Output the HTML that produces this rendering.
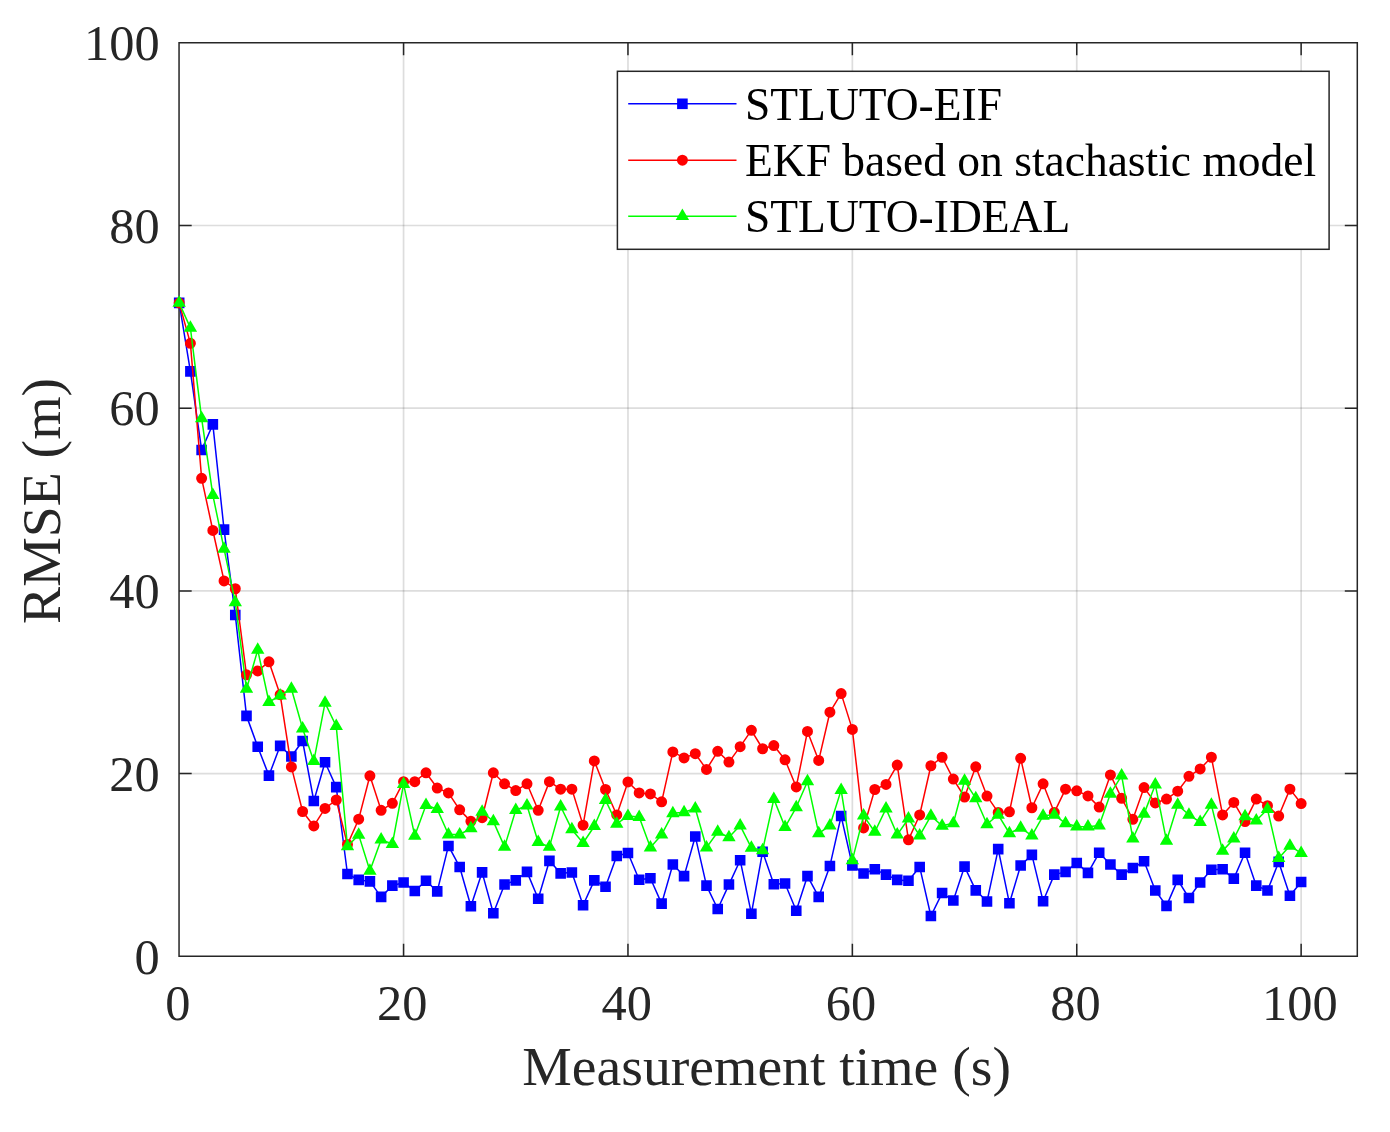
<!DOCTYPE html>
<html><head><meta charset="utf-8"><title>RMSE chart</title>
<style>html,body{margin:0;padding:0;background:#fff;overflow:hidden;}svg{display:block;will-change:transform;}text{font-family:"Liberation Serif",serif;}</style></head><body>
<svg width="1390" height="1132" viewBox="0 0 1390 1132">
<rect x="0" y="0" width="1390" height="1132" fill="#ffffff"/>
<path d="M403.57 42.80V956.30M627.96 42.80V956.30M852.36 42.80V956.30M1076.75 42.80V956.30M1301.14 42.80V956.30" stroke="#262626" stroke-opacity="0.155" stroke-width="1.7" fill="none"/>
<path d="M179.18 773.60H1357.30M179.18 590.90H1357.30M179.18 408.20H1357.30M179.18 225.50H1357.30" stroke="#262626" stroke-opacity="0.155" stroke-width="1.7" fill="none"/>
<path d="M179.05 42.80H1357.30V956.30H179.05ZM403.57 956.30v-12.5M403.57 42.80v12.5M627.96 956.30v-12.5M627.96 42.80v12.5M852.36 956.30v-12.5M852.36 42.80v12.5M1076.75 956.30v-12.5M1076.75 42.80v12.5M1301.14 956.30v-12.5M1301.14 42.80v12.5M179.18 773.60h12.5M1357.30 773.60h-12.5M179.18 590.90h12.5M1357.30 590.90h-12.5M179.18 408.20h12.5M1357.30 408.20h-12.5M179.18 225.50h12.5M1357.30 225.50h-12.5M179.18 956.30h12.5M179.18 42.80h12.5M1357.30 956.30h-12.5M1357.30 42.80h-12.5" stroke="#262626" stroke-width="1.5" fill="none" stroke-linecap="butt"/>
<g stroke="#0000ff" fill="#0000ff">
<polyline points="179.18,302.89 190.40,371.39 201.62,449.93 212.84,424.36 224.06,529.66 235.28,614.97 246.50,715.88 257.72,746.75 268.94,775.61 280.16,745.84 291.38,756.44 302.60,741.00 313.82,801.00 325.03,762.28 336.25,787.12 347.47,873.98 358.69,879.91 369.91,881.37 381.13,896.90 392.35,885.67 403.57,882.47 414.79,890.96 426.01,880.74 437.23,891.42 448.45,845.94 459.67,866.94 470.89,906.22 482.11,872.33 493.33,913.25 504.55,884.57 515.77,880.37 526.99,871.88 538.21,898.82 549.43,860.83 560.65,873.34 571.87,872.52 583.09,905.21 594.31,880.37 605.52,886.76 616.74,855.98 627.96,852.97 639.18,879.73 650.40,878.27 661.62,903.66 672.84,864.48 684.06,876.08 695.28,836.44 706.50,885.67 717.72,909.05 728.94,884.57 740.16,860.19 751.38,913.71 762.60,851.69 773.82,884.21 785.04,883.57 796.26,910.69 807.48,876.08 818.70,896.90 829.92,865.94 841.14,816.07 852.36,865.48 863.58,873.52 874.80,869.32 886.01,874.62 897.23,879.91 908.45,880.74 919.67,866.94 930.89,915.99 942.11,893.06 953.33,900.55 964.55,866.58 975.77,890.33 986.99,901.56 998.21,849.14 1009.43,903.29 1020.65,865.48 1031.87,854.89 1043.09,901.19 1054.31,874.62 1065.53,871.88 1076.75,862.93 1087.97,872.88 1099.19,852.79 1110.41,864.48 1121.63,874.62 1132.85,868.04 1144.07,861.28 1155.29,890.51 1166.50,905.85 1177.72,879.91 1188.94,898.00 1200.16,882.47 1211.38,869.78 1222.60,869.32 1233.82,878.63 1245.04,852.79 1256.26,885.67 1267.48,890.51 1278.70,861.92 1289.92,895.80 1301.14,882.01" fill="none" stroke-width="1.5" stroke-linejoin="round"/>
<path d="M173.88 297.59h10.6v10.6h-10.6zM185.10 366.09h10.6v10.6h-10.6zM196.32 444.63h10.6v10.6h-10.6zM207.54 419.06h10.6v10.6h-10.6zM218.76 524.36h10.6v10.6h-10.6zM229.98 609.67h10.6v10.6h-10.6zM241.20 710.58h10.6v10.6h-10.6zM252.42 741.45h10.6v10.6h-10.6zM263.64 770.31h10.6v10.6h-10.6zM274.86 740.54h10.6v10.6h-10.6zM286.08 751.14h10.6v10.6h-10.6zM297.30 735.70h10.6v10.6h-10.6zM308.52 795.70h10.6v10.6h-10.6zM319.73 756.98h10.6v10.6h-10.6zM330.95 781.82h10.6v10.6h-10.6zM342.17 868.68h10.6v10.6h-10.6zM353.39 874.61h10.6v10.6h-10.6zM364.61 876.07h10.6v10.6h-10.6zM375.83 891.60h10.6v10.6h-10.6zM387.05 880.37h10.6v10.6h-10.6zM398.27 877.17h10.6v10.6h-10.6zM409.49 885.66h10.6v10.6h-10.6zM420.71 875.44h10.6v10.6h-10.6zM431.93 886.12h10.6v10.6h-10.6zM443.15 840.64h10.6v10.6h-10.6zM454.37 861.64h10.6v10.6h-10.6zM465.59 900.92h10.6v10.6h-10.6zM476.81 867.03h10.6v10.6h-10.6zM488.03 907.95h10.6v10.6h-10.6zM499.25 879.27h10.6v10.6h-10.6zM510.47 875.07h10.6v10.6h-10.6zM521.69 866.58h10.6v10.6h-10.6zM532.91 893.52h10.6v10.6h-10.6zM544.13 855.53h10.6v10.6h-10.6zM555.35 868.04h10.6v10.6h-10.6zM566.57 867.22h10.6v10.6h-10.6zM577.79 899.91h10.6v10.6h-10.6zM589.01 875.07h10.6v10.6h-10.6zM600.22 881.46h10.6v10.6h-10.6zM611.44 850.68h10.6v10.6h-10.6zM622.66 847.67h10.6v10.6h-10.6zM633.88 874.43h10.6v10.6h-10.6zM645.10 872.97h10.6v10.6h-10.6zM656.32 898.36h10.6v10.6h-10.6zM667.54 859.18h10.6v10.6h-10.6zM678.76 870.78h10.6v10.6h-10.6zM689.98 831.14h10.6v10.6h-10.6zM701.20 880.37h10.6v10.6h-10.6zM712.42 903.75h10.6v10.6h-10.6zM723.64 879.27h10.6v10.6h-10.6zM734.86 854.89h10.6v10.6h-10.6zM746.08 908.41h10.6v10.6h-10.6zM757.30 846.39h10.6v10.6h-10.6zM768.52 878.91h10.6v10.6h-10.6zM779.74 878.27h10.6v10.6h-10.6zM790.96 905.39h10.6v10.6h-10.6zM802.18 870.78h10.6v10.6h-10.6zM813.40 891.60h10.6v10.6h-10.6zM824.62 860.64h10.6v10.6h-10.6zM835.84 810.77h10.6v10.6h-10.6zM847.06 860.18h10.6v10.6h-10.6zM858.28 868.22h10.6v10.6h-10.6zM869.50 864.02h10.6v10.6h-10.6zM880.71 869.32h10.6v10.6h-10.6zM891.93 874.61h10.6v10.6h-10.6zM903.15 875.44h10.6v10.6h-10.6zM914.37 861.64h10.6v10.6h-10.6zM925.59 910.69h10.6v10.6h-10.6zM936.81 887.76h10.6v10.6h-10.6zM948.03 895.25h10.6v10.6h-10.6zM959.25 861.28h10.6v10.6h-10.6zM970.47 885.03h10.6v10.6h-10.6zM981.69 896.26h10.6v10.6h-10.6zM992.91 843.84h10.6v10.6h-10.6zM1004.13 897.99h10.6v10.6h-10.6zM1015.35 860.18h10.6v10.6h-10.6zM1026.57 849.59h10.6v10.6h-10.6zM1037.79 895.89h10.6v10.6h-10.6zM1049.01 869.32h10.6v10.6h-10.6zM1060.23 866.58h10.6v10.6h-10.6zM1071.45 857.63h10.6v10.6h-10.6zM1082.67 867.58h10.6v10.6h-10.6zM1093.89 847.49h10.6v10.6h-10.6zM1105.11 859.18h10.6v10.6h-10.6zM1116.33 869.32h10.6v10.6h-10.6zM1127.55 862.74h10.6v10.6h-10.6zM1138.77 855.98h10.6v10.6h-10.6zM1149.99 885.21h10.6v10.6h-10.6zM1161.20 900.55h10.6v10.6h-10.6zM1172.42 874.61h10.6v10.6h-10.6zM1183.64 892.70h10.6v10.6h-10.6zM1194.86 877.17h10.6v10.6h-10.6zM1206.08 864.48h10.6v10.6h-10.6zM1217.30 864.02h10.6v10.6h-10.6zM1228.52 873.33h10.6v10.6h-10.6zM1239.74 847.49h10.6v10.6h-10.6zM1250.96 880.37h10.6v10.6h-10.6zM1262.18 885.21h10.6v10.6h-10.6zM1273.40 856.62h10.6v10.6h-10.6zM1284.62 890.50h10.6v10.6h-10.6zM1295.84 876.71h10.6v10.6h-10.6z" stroke="none"/>
</g>
<g stroke="#ff0000" fill="#ff0000">
<polyline points="179.18,302.89 190.40,343.35 201.62,478.34 212.84,530.48 224.06,580.90 235.28,588.75 246.50,674.79 257.72,670.95 268.94,661.82 280.16,694.70 291.38,766.94 302.60,811.51 313.82,825.94 325.03,808.40 336.25,800.00 347.47,844.48 358.69,819.18 369.91,775.80 381.13,810.32 392.35,803.29 403.57,781.64 414.79,781.64 426.01,772.78 437.23,788.04 448.45,792.88 459.67,809.86 470.89,821.37 482.11,817.72 493.33,772.78 504.55,783.83 515.77,790.59 526.99,783.83 538.21,810.32 549.43,781.64 560.65,789.13 571.87,789.13 583.09,825.21 594.31,760.91 605.52,789.50 616.74,814.98 627.96,781.92 639.18,792.88 650.40,793.97 661.62,801.83 672.84,751.96 684.06,757.90 695.28,753.70 706.50,769.40 717.72,751.32 728.94,762.10 740.16,746.66 751.38,730.31 762.60,748.76 773.82,745.57 785.04,759.81 796.26,786.94 807.48,731.41 818.70,760.45 829.92,712.23 841.14,693.60 852.36,729.40 863.58,827.95 874.80,789.50 886.01,784.38 897.23,765.11 908.45,839.82 919.67,814.98 930.89,765.75 942.11,757.26 953.33,779.09 964.55,796.99 975.77,766.85 986.99,796.07 998.21,812.42 1009.43,811.78 1020.65,758.35 1031.87,807.76 1043.09,783.83 1054.31,812.42 1065.53,789.13 1076.75,790.78 1087.97,795.89 1099.19,807.12 1110.41,774.88 1121.63,798.26 1132.85,819.27 1144.07,787.58 1155.29,802.92 1166.50,799.09 1177.72,791.23 1188.94,776.35 1200.16,768.95 1211.38,757.26 1222.60,814.98 1233.82,802.47 1245.04,821.55 1256.26,799.09 1267.48,805.66 1278.70,816.07 1289.92,789.13 1301.14,803.56" fill="none" stroke-width="1.5" stroke-linejoin="round"/>
<path d="M173.68 302.89a5.5 5.5 0 1 0 11.0 0a5.5 5.5 0 1 0 -11.0 0zM184.90 343.35a5.5 5.5 0 1 0 11.0 0a5.5 5.5 0 1 0 -11.0 0zM196.12 478.34a5.5 5.5 0 1 0 11.0 0a5.5 5.5 0 1 0 -11.0 0zM207.34 530.48a5.5 5.5 0 1 0 11.0 0a5.5 5.5 0 1 0 -11.0 0zM218.56 580.90a5.5 5.5 0 1 0 11.0 0a5.5 5.5 0 1 0 -11.0 0zM229.78 588.75a5.5 5.5 0 1 0 11.0 0a5.5 5.5 0 1 0 -11.0 0zM241.00 674.79a5.5 5.5 0 1 0 11.0 0a5.5 5.5 0 1 0 -11.0 0zM252.22 670.95a5.5 5.5 0 1 0 11.0 0a5.5 5.5 0 1 0 -11.0 0zM263.44 661.82a5.5 5.5 0 1 0 11.0 0a5.5 5.5 0 1 0 -11.0 0zM274.66 694.70a5.5 5.5 0 1 0 11.0 0a5.5 5.5 0 1 0 -11.0 0zM285.88 766.94a5.5 5.5 0 1 0 11.0 0a5.5 5.5 0 1 0 -11.0 0zM297.10 811.51a5.5 5.5 0 1 0 11.0 0a5.5 5.5 0 1 0 -11.0 0zM308.32 825.94a5.5 5.5 0 1 0 11.0 0a5.5 5.5 0 1 0 -11.0 0zM319.53 808.40a5.5 5.5 0 1 0 11.0 0a5.5 5.5 0 1 0 -11.0 0zM330.75 800.00a5.5 5.5 0 1 0 11.0 0a5.5 5.5 0 1 0 -11.0 0zM341.97 844.48a5.5 5.5 0 1 0 11.0 0a5.5 5.5 0 1 0 -11.0 0zM353.19 819.18a5.5 5.5 0 1 0 11.0 0a5.5 5.5 0 1 0 -11.0 0zM364.41 775.80a5.5 5.5 0 1 0 11.0 0a5.5 5.5 0 1 0 -11.0 0zM375.63 810.32a5.5 5.5 0 1 0 11.0 0a5.5 5.5 0 1 0 -11.0 0zM386.85 803.29a5.5 5.5 0 1 0 11.0 0a5.5 5.5 0 1 0 -11.0 0zM398.07 781.64a5.5 5.5 0 1 0 11.0 0a5.5 5.5 0 1 0 -11.0 0zM409.29 781.64a5.5 5.5 0 1 0 11.0 0a5.5 5.5 0 1 0 -11.0 0zM420.51 772.78a5.5 5.5 0 1 0 11.0 0a5.5 5.5 0 1 0 -11.0 0zM431.73 788.04a5.5 5.5 0 1 0 11.0 0a5.5 5.5 0 1 0 -11.0 0zM442.95 792.88a5.5 5.5 0 1 0 11.0 0a5.5 5.5 0 1 0 -11.0 0zM454.17 809.86a5.5 5.5 0 1 0 11.0 0a5.5 5.5 0 1 0 -11.0 0zM465.39 821.37a5.5 5.5 0 1 0 11.0 0a5.5 5.5 0 1 0 -11.0 0zM476.61 817.72a5.5 5.5 0 1 0 11.0 0a5.5 5.5 0 1 0 -11.0 0zM487.83 772.78a5.5 5.5 0 1 0 11.0 0a5.5 5.5 0 1 0 -11.0 0zM499.05 783.83a5.5 5.5 0 1 0 11.0 0a5.5 5.5 0 1 0 -11.0 0zM510.27 790.59a5.5 5.5 0 1 0 11.0 0a5.5 5.5 0 1 0 -11.0 0zM521.49 783.83a5.5 5.5 0 1 0 11.0 0a5.5 5.5 0 1 0 -11.0 0zM532.71 810.32a5.5 5.5 0 1 0 11.0 0a5.5 5.5 0 1 0 -11.0 0zM543.93 781.64a5.5 5.5 0 1 0 11.0 0a5.5 5.5 0 1 0 -11.0 0zM555.15 789.13a5.5 5.5 0 1 0 11.0 0a5.5 5.5 0 1 0 -11.0 0zM566.37 789.13a5.5 5.5 0 1 0 11.0 0a5.5 5.5 0 1 0 -11.0 0zM577.59 825.21a5.5 5.5 0 1 0 11.0 0a5.5 5.5 0 1 0 -11.0 0zM588.81 760.91a5.5 5.5 0 1 0 11.0 0a5.5 5.5 0 1 0 -11.0 0zM600.02 789.50a5.5 5.5 0 1 0 11.0 0a5.5 5.5 0 1 0 -11.0 0zM611.24 814.98a5.5 5.5 0 1 0 11.0 0a5.5 5.5 0 1 0 -11.0 0zM622.46 781.92a5.5 5.5 0 1 0 11.0 0a5.5 5.5 0 1 0 -11.0 0zM633.68 792.88a5.5 5.5 0 1 0 11.0 0a5.5 5.5 0 1 0 -11.0 0zM644.90 793.97a5.5 5.5 0 1 0 11.0 0a5.5 5.5 0 1 0 -11.0 0zM656.12 801.83a5.5 5.5 0 1 0 11.0 0a5.5 5.5 0 1 0 -11.0 0zM667.34 751.96a5.5 5.5 0 1 0 11.0 0a5.5 5.5 0 1 0 -11.0 0zM678.56 757.90a5.5 5.5 0 1 0 11.0 0a5.5 5.5 0 1 0 -11.0 0zM689.78 753.70a5.5 5.5 0 1 0 11.0 0a5.5 5.5 0 1 0 -11.0 0zM701.00 769.40a5.5 5.5 0 1 0 11.0 0a5.5 5.5 0 1 0 -11.0 0zM712.22 751.32a5.5 5.5 0 1 0 11.0 0a5.5 5.5 0 1 0 -11.0 0zM723.44 762.10a5.5 5.5 0 1 0 11.0 0a5.5 5.5 0 1 0 -11.0 0zM734.66 746.66a5.5 5.5 0 1 0 11.0 0a5.5 5.5 0 1 0 -11.0 0zM745.88 730.31a5.5 5.5 0 1 0 11.0 0a5.5 5.5 0 1 0 -11.0 0zM757.10 748.76a5.5 5.5 0 1 0 11.0 0a5.5 5.5 0 1 0 -11.0 0zM768.32 745.57a5.5 5.5 0 1 0 11.0 0a5.5 5.5 0 1 0 -11.0 0zM779.54 759.81a5.5 5.5 0 1 0 11.0 0a5.5 5.5 0 1 0 -11.0 0zM790.76 786.94a5.5 5.5 0 1 0 11.0 0a5.5 5.5 0 1 0 -11.0 0zM801.98 731.41a5.5 5.5 0 1 0 11.0 0a5.5 5.5 0 1 0 -11.0 0zM813.20 760.45a5.5 5.5 0 1 0 11.0 0a5.5 5.5 0 1 0 -11.0 0zM824.42 712.23a5.5 5.5 0 1 0 11.0 0a5.5 5.5 0 1 0 -11.0 0zM835.64 693.60a5.5 5.5 0 1 0 11.0 0a5.5 5.5 0 1 0 -11.0 0zM846.86 729.40a5.5 5.5 0 1 0 11.0 0a5.5 5.5 0 1 0 -11.0 0zM858.08 827.95a5.5 5.5 0 1 0 11.0 0a5.5 5.5 0 1 0 -11.0 0zM869.30 789.50a5.5 5.5 0 1 0 11.0 0a5.5 5.5 0 1 0 -11.0 0zM880.51 784.38a5.5 5.5 0 1 0 11.0 0a5.5 5.5 0 1 0 -11.0 0zM891.73 765.11a5.5 5.5 0 1 0 11.0 0a5.5 5.5 0 1 0 -11.0 0zM902.95 839.82a5.5 5.5 0 1 0 11.0 0a5.5 5.5 0 1 0 -11.0 0zM914.17 814.98a5.5 5.5 0 1 0 11.0 0a5.5 5.5 0 1 0 -11.0 0zM925.39 765.75a5.5 5.5 0 1 0 11.0 0a5.5 5.5 0 1 0 -11.0 0zM936.61 757.26a5.5 5.5 0 1 0 11.0 0a5.5 5.5 0 1 0 -11.0 0zM947.83 779.09a5.5 5.5 0 1 0 11.0 0a5.5 5.5 0 1 0 -11.0 0zM959.05 796.99a5.5 5.5 0 1 0 11.0 0a5.5 5.5 0 1 0 -11.0 0zM970.27 766.85a5.5 5.5 0 1 0 11.0 0a5.5 5.5 0 1 0 -11.0 0zM981.49 796.07a5.5 5.5 0 1 0 11.0 0a5.5 5.5 0 1 0 -11.0 0zM992.71 812.42a5.5 5.5 0 1 0 11.0 0a5.5 5.5 0 1 0 -11.0 0zM1003.93 811.78a5.5 5.5 0 1 0 11.0 0a5.5 5.5 0 1 0 -11.0 0zM1015.15 758.35a5.5 5.5 0 1 0 11.0 0a5.5 5.5 0 1 0 -11.0 0zM1026.37 807.76a5.5 5.5 0 1 0 11.0 0a5.5 5.5 0 1 0 -11.0 0zM1037.59 783.83a5.5 5.5 0 1 0 11.0 0a5.5 5.5 0 1 0 -11.0 0zM1048.81 812.42a5.5 5.5 0 1 0 11.0 0a5.5 5.5 0 1 0 -11.0 0zM1060.03 789.13a5.5 5.5 0 1 0 11.0 0a5.5 5.5 0 1 0 -11.0 0zM1071.25 790.78a5.5 5.5 0 1 0 11.0 0a5.5 5.5 0 1 0 -11.0 0zM1082.47 795.89a5.5 5.5 0 1 0 11.0 0a5.5 5.5 0 1 0 -11.0 0zM1093.69 807.12a5.5 5.5 0 1 0 11.0 0a5.5 5.5 0 1 0 -11.0 0zM1104.91 774.88a5.5 5.5 0 1 0 11.0 0a5.5 5.5 0 1 0 -11.0 0zM1116.13 798.26a5.5 5.5 0 1 0 11.0 0a5.5 5.5 0 1 0 -11.0 0zM1127.35 819.27a5.5 5.5 0 1 0 11.0 0a5.5 5.5 0 1 0 -11.0 0zM1138.57 787.58a5.5 5.5 0 1 0 11.0 0a5.5 5.5 0 1 0 -11.0 0zM1149.79 802.92a5.5 5.5 0 1 0 11.0 0a5.5 5.5 0 1 0 -11.0 0zM1161.00 799.09a5.5 5.5 0 1 0 11.0 0a5.5 5.5 0 1 0 -11.0 0zM1172.22 791.23a5.5 5.5 0 1 0 11.0 0a5.5 5.5 0 1 0 -11.0 0zM1183.44 776.35a5.5 5.5 0 1 0 11.0 0a5.5 5.5 0 1 0 -11.0 0zM1194.66 768.95a5.5 5.5 0 1 0 11.0 0a5.5 5.5 0 1 0 -11.0 0zM1205.88 757.26a5.5 5.5 0 1 0 11.0 0a5.5 5.5 0 1 0 -11.0 0zM1217.10 814.98a5.5 5.5 0 1 0 11.0 0a5.5 5.5 0 1 0 -11.0 0zM1228.32 802.47a5.5 5.5 0 1 0 11.0 0a5.5 5.5 0 1 0 -11.0 0zM1239.54 821.55a5.5 5.5 0 1 0 11.0 0a5.5 5.5 0 1 0 -11.0 0zM1250.76 799.09a5.5 5.5 0 1 0 11.0 0a5.5 5.5 0 1 0 -11.0 0zM1261.98 805.66a5.5 5.5 0 1 0 11.0 0a5.5 5.5 0 1 0 -11.0 0zM1273.20 816.07a5.5 5.5 0 1 0 11.0 0a5.5 5.5 0 1 0 -11.0 0zM1284.42 789.13a5.5 5.5 0 1 0 11.0 0a5.5 5.5 0 1 0 -11.0 0zM1295.64 803.56a5.5 5.5 0 1 0 11.0 0a5.5 5.5 0 1 0 -11.0 0z" stroke="none"/>
</g>
<g stroke="#00ff00" fill="#00ff00">
<polyline points="179.18,302.89 190.40,327.91 201.62,418.42 212.84,495.14 224.06,548.84 235.28,602.45 246.50,688.94 257.72,649.94 268.94,702.00 280.16,695.61 291.38,688.76 302.60,728.49 313.82,761.18 325.03,702.92 336.25,726.21 347.47,846.30 358.69,834.89 369.91,870.78 381.13,839.64 392.35,844.02 403.57,784.20 414.79,835.80 426.01,805.02 437.23,809.22 448.45,834.52 459.67,834.52 470.89,828.40 482.11,811.78 493.33,821.37 504.55,846.85 515.77,810.14 526.99,805.48 538.21,842.19 549.43,846.85 560.65,806.48 571.87,829.41 583.09,843.02 594.31,826.21 605.52,800.09 616.74,823.75 627.96,816.07 639.18,817.08 650.40,847.49 661.62,834.71 672.84,813.33 684.06,812.24 695.28,808.58 706.50,847.67 717.72,831.97 728.94,837.26 740.16,825.57 751.38,847.86 762.60,850.23 773.82,799.09 785.04,827.12 796.26,807.31 807.48,781.46 818.70,833.43 829.92,825.57 841.14,790.14 852.36,860.37 863.58,815.62 874.80,831.97 886.01,808.58 897.23,834.71 908.45,818.63 919.67,835.53 930.89,815.80 942.11,825.85 953.33,823.29 964.55,780.82 975.77,798.45 986.99,824.29 998.21,814.80 1009.43,833.24 1020.65,827.95 1031.87,835.53 1043.09,815.80 1054.31,814.80 1065.53,823.29 1076.75,826.49 1087.97,826.67 1099.19,825.57 1110.41,793.79 1121.63,775.61 1132.85,838.72 1144.07,813.88 1155.29,784.66 1166.50,840.92 1177.72,804.84 1188.94,814.80 1200.16,822.01 1211.38,804.84 1222.60,850.87 1233.82,838.72 1245.04,816.44 1256.26,820.55 1267.48,809.22 1278.70,858.18 1289.92,845.76 1301.14,853.15" fill="none" stroke-width="1.5" stroke-linejoin="round"/>
<path d="M179.18 295.29l6.7 11.5h-13.4zM190.40 320.31l6.7 11.5h-13.4zM201.62 410.82l6.7 11.5h-13.4zM212.84 487.54l6.7 11.5h-13.4zM224.06 541.24l6.7 11.5h-13.4zM235.28 594.85l6.7 11.5h-13.4zM246.50 681.34l6.7 11.5h-13.4zM257.72 642.34l6.7 11.5h-13.4zM268.94 694.40l6.7 11.5h-13.4zM280.16 688.01l6.7 11.5h-13.4zM291.38 681.16l6.7 11.5h-13.4zM302.60 720.89l6.7 11.5h-13.4zM313.82 753.58l6.7 11.5h-13.4zM325.03 695.32l6.7 11.5h-13.4zM336.25 718.61l6.7 11.5h-13.4zM347.47 838.70l6.7 11.5h-13.4zM358.69 827.29l6.7 11.5h-13.4zM369.91 863.18l6.7 11.5h-13.4zM381.13 832.04l6.7 11.5h-13.4zM392.35 836.42l6.7 11.5h-13.4zM403.57 776.60l6.7 11.5h-13.4zM414.79 828.20l6.7 11.5h-13.4zM426.01 797.42l6.7 11.5h-13.4zM437.23 801.62l6.7 11.5h-13.4zM448.45 826.92l6.7 11.5h-13.4zM459.67 826.92l6.7 11.5h-13.4zM470.89 820.80l6.7 11.5h-13.4zM482.11 804.18l6.7 11.5h-13.4zM493.33 813.77l6.7 11.5h-13.4zM504.55 839.25l6.7 11.5h-13.4zM515.77 802.54l6.7 11.5h-13.4zM526.99 797.88l6.7 11.5h-13.4zM538.21 834.59l6.7 11.5h-13.4zM549.43 839.25l6.7 11.5h-13.4zM560.65 798.88l6.7 11.5h-13.4zM571.87 821.81l6.7 11.5h-13.4zM583.09 835.42l6.7 11.5h-13.4zM594.31 818.61l6.7 11.5h-13.4zM605.52 792.49l6.7 11.5h-13.4zM616.74 816.15l6.7 11.5h-13.4zM627.96 808.47l6.7 11.5h-13.4zM639.18 809.48l6.7 11.5h-13.4zM650.40 839.89l6.7 11.5h-13.4zM661.62 827.11l6.7 11.5h-13.4zM672.84 805.73l6.7 11.5h-13.4zM684.06 804.64l6.7 11.5h-13.4zM695.28 800.98l6.7 11.5h-13.4zM706.50 840.07l6.7 11.5h-13.4zM717.72 824.37l6.7 11.5h-13.4zM728.94 829.66l6.7 11.5h-13.4zM740.16 817.97l6.7 11.5h-13.4zM751.38 840.26l6.7 11.5h-13.4zM762.60 842.63l6.7 11.5h-13.4zM773.82 791.49l6.7 11.5h-13.4zM785.04 819.52l6.7 11.5h-13.4zM796.26 799.71l6.7 11.5h-13.4zM807.48 773.86l6.7 11.5h-13.4zM818.70 825.83l6.7 11.5h-13.4zM829.92 817.97l6.7 11.5h-13.4zM841.14 782.54l6.7 11.5h-13.4zM852.36 852.77l6.7 11.5h-13.4zM863.58 808.02l6.7 11.5h-13.4zM874.80 824.37l6.7 11.5h-13.4zM886.01 800.98l6.7 11.5h-13.4zM897.23 827.11l6.7 11.5h-13.4zM908.45 811.03l6.7 11.5h-13.4zM919.67 827.93l6.7 11.5h-13.4zM930.89 808.20l6.7 11.5h-13.4zM942.11 818.25l6.7 11.5h-13.4zM953.33 815.69l6.7 11.5h-13.4zM964.55 773.22l6.7 11.5h-13.4zM975.77 790.85l6.7 11.5h-13.4zM986.99 816.69l6.7 11.5h-13.4zM998.21 807.20l6.7 11.5h-13.4zM1009.43 825.64l6.7 11.5h-13.4zM1020.65 820.35l6.7 11.5h-13.4zM1031.87 827.93l6.7 11.5h-13.4zM1043.09 808.20l6.7 11.5h-13.4zM1054.31 807.20l6.7 11.5h-13.4zM1065.53 815.69l6.7 11.5h-13.4zM1076.75 818.89l6.7 11.5h-13.4zM1087.97 819.07l6.7 11.5h-13.4zM1099.19 817.97l6.7 11.5h-13.4zM1110.41 786.19l6.7 11.5h-13.4zM1121.63 768.01l6.7 11.5h-13.4zM1132.85 831.12l6.7 11.5h-13.4zM1144.07 806.28l6.7 11.5h-13.4zM1155.29 777.06l6.7 11.5h-13.4zM1166.50 833.32l6.7 11.5h-13.4zM1177.72 797.24l6.7 11.5h-13.4zM1188.94 807.20l6.7 11.5h-13.4zM1200.16 814.41l6.7 11.5h-13.4zM1211.38 797.24l6.7 11.5h-13.4zM1222.60 843.27l6.7 11.5h-13.4zM1233.82 831.12l6.7 11.5h-13.4zM1245.04 808.84l6.7 11.5h-13.4zM1256.26 812.95l6.7 11.5h-13.4zM1267.48 801.62l6.7 11.5h-13.4zM1278.70 850.58l6.7 11.5h-13.4zM1289.92 838.16l6.7 11.5h-13.4zM1301.14 845.55l6.7 11.5h-13.4z" stroke="none"/>
</g>
<g fill="#262626" font-size="50.4px">
<text x="177.88" y="1020.4" text-anchor="middle">0</text>
<text x="402.27" y="1020.4" text-anchor="middle">20</text>
<text x="626.66" y="1020.4" text-anchor="middle">40</text>
<text x="851.06" y="1020.4" text-anchor="middle">60</text>
<text x="1075.45" y="1020.4" text-anchor="middle">80</text>
<text x="1299.84" y="1020.4" text-anchor="middle">100</text>
<text x="159.6" y="973.50" text-anchor="end">0</text>
<text x="159.6" y="790.80" text-anchor="end">20</text>
<text x="159.6" y="608.10" text-anchor="end">40</text>
<text x="159.6" y="425.40" text-anchor="end">60</text>
<text x="159.6" y="242.70" text-anchor="end">80</text>
<text x="159.6" y="60.00" text-anchor="end">100</text>
</g>
<text x="766.7" y="1085.2" text-anchor="middle" font-size="55.7px" fill="#262626">Measurement time (s)</text>
<text transform="translate(60.2 501.0) rotate(-90)" text-anchor="middle" font-size="55.7px" fill="#262626">RMSE (m)</text>
<rect x="617.4" y="71.3" width="711.7" height="178.0" fill="#ffffff" stroke="#262626" stroke-width="1.5"/>
<path d="M628.2 103.8H736.5" stroke="#0000ff" stroke-width="1.5" fill="none"/>
<rect x="677.10" y="98.50" width="10.6" height="10.6" fill="#0000ff"/>
<text x="745.0" y="120.10" font-size="45.5px" fill="#000000">STLUTO-EIF</text>
<path d="M628.2 160.2H736.5" stroke="#ff0000" stroke-width="1.5" fill="none"/>
<circle cx="682.4" cy="160.2" r="5.5" fill="#ff0000"/>
<text x="745.0" y="175.80" font-size="45.5px" fill="#000000">EKF based on stachastic model</text>
<path d="M628.2 216.2H736.5" stroke="#00ff00" stroke-width="1.5" fill="none"/>
<path d="M682.4 208.60l6.7 11.5h-13.4z" fill="#00ff00"/>
<text x="745.0" y="231.80" font-size="45.5px" fill="#000000">STLUTO-IDEAL</text>
</svg></body></html>
